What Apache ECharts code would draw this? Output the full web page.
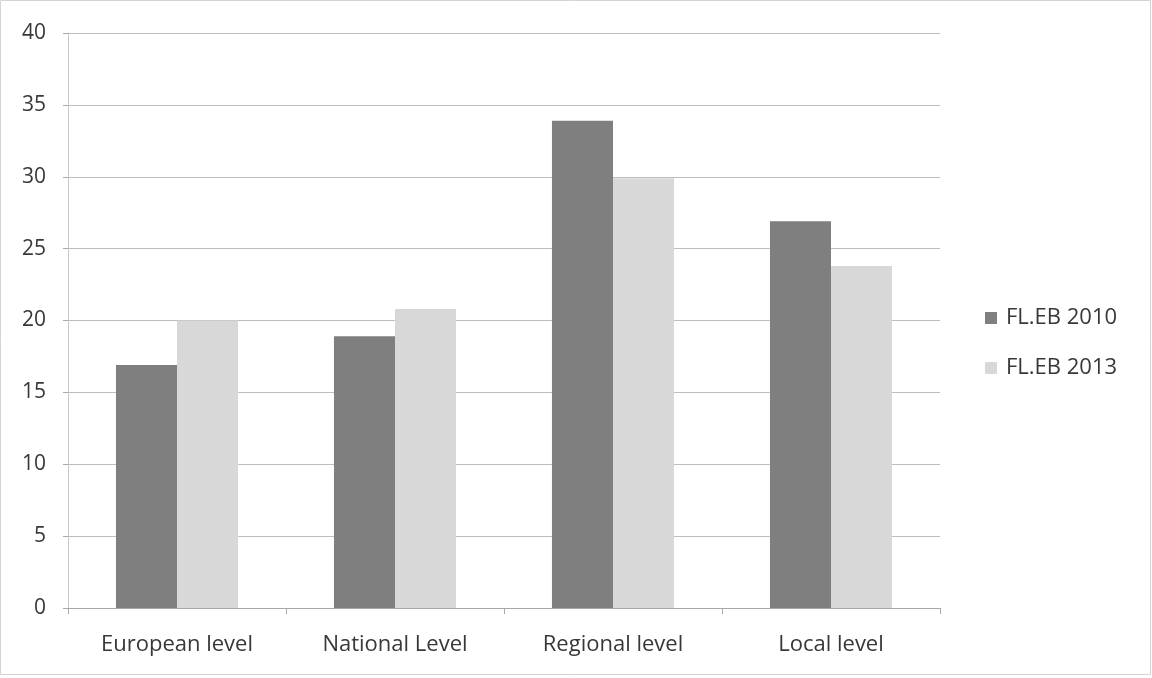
<!DOCTYPE html>
<html>
<head>
<meta charset="utf-8">
<script src="https://cdn.jsdelivr.net/npm/echarts@6/dist/echarts.min.js"></script>
<style>
  html, body { margin: 0; padding: 0; background: #fff; }
  #chart { width: 1152px; height: 678px; }
</style>
</head>
<body>
<div id="chart"></div>
<script>
// Survey shares by level of government
const categories = ['European level', 'National Level', 'Regional level', 'Local level'];
const seriesNames = ['FL.EB 2010', 'FL.EB 2013'];
const values2010 = [16.9, 18.9, 33.9, 26.9];
const values2013 = [20.0, 20.8, 29.9, 23.8];
const yTicks = { min: 0, max: 40, interval: 5 };

const FONT = '"Open Sans", "Noto Sans", sans-serif';
const TEXT = '#383838';

const chart = echarts.init(document.getElementById('chart'), null, { renderer: 'canvas' });

chart.setOption({
  animation: false,
  backgroundColor: '#ffffff',
  textStyle: { fontFamily: FONT },
  graphic: [{
    type: 'rect',
    shape: { x: 0.5, y: 0.5, width: 1150, height: 674 },
    style: { fill: 'none', stroke: '#d4d4d4', lineWidth: 1 },
    silent: true
  }],
  grid: { left: 68, right: 212, top: 33, bottom: 70 },
  legend: {
    orient: 'vertical',
    left: 985,
    top: 307,
    padding: 0,
    itemWidth: 12,
    itemHeight: 12,
    itemGap: 28,
    icon: 'rect',
    textStyle: { fontFamily: FONT, fontSize: 22, color: TEXT, padding: [0, 0, 0, 4] },
    data: seriesNames
  },
  xAxis: {
    type: 'category',
    data: categories,
    axisLine: { lineStyle: { color: '#a8a8a8' } },
    axisTick: { show: true, length: 6, alignWithLabel: false, lineStyle: { color: '#a8a8a8' } },
    axisLabel: { fontFamily: FONT, fontSize: 22, color: TEXT, margin: 26 },
    splitLine: { show: false }
  },
  yAxis: {
    type: 'value',
    min: yTicks.min,
    max: yTicks.max,
    interval: yTicks.interval,
    axisLine: { show: true, lineStyle: { color: '#c8c8c8' } },
    axisTick: { show: true, length: 5, lineStyle: { color: '#a8a8a8' } },
    axisLabel: { fontFamily: FONT, fontSize: 21, color: TEXT, margin: 22 },
    splitLine: { show: true, lineStyle: { color: '#bdbdbd', width: 1 } }
  },
  series: [
    {
      name: seriesNames[0],
      type: 'bar',
      data: values2010,
      barGap: '0%',
      barCategoryGap: '44%',
      itemStyle: { color: '#7f7f7f' }
    },
    {
      name: seriesNames[1],
      type: 'bar',
      data: values2013,
      barGap: '0%',
      barCategoryGap: '44%',
      itemStyle: { color: '#d8d8d8' }
    }
  ]
});
</script>
</body>
</html>
